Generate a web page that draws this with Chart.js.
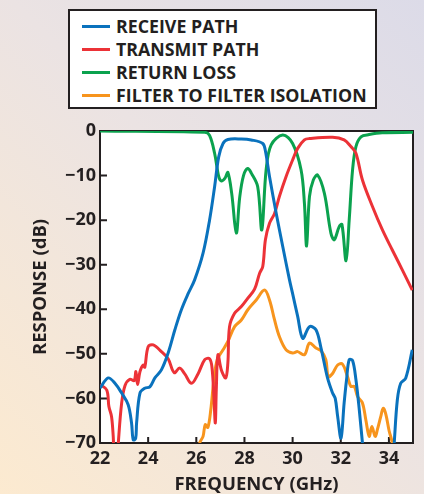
<!DOCTYPE html>
<html>
<head>
<meta charset="utf-8">
<script src="https://cdn.jsdelivr.net/npm/chart.js@4.4.1/dist/chart.umd.min.js"></script>
<style>
  html, body { margin: 0; padding: 0; }
  body { width: 424px; height: 494px; overflow: hidden; }
  #wrap {
    position: relative; width: 424px; height: 494px;
    background: linear-gradient(225deg, #dcdbe8 0%, #ebe3e3 45%, #fcead0 100%);
  }
  #legend {
    position: absolute; left: 68px; top: 9px; width: 305px; height: 96px;
    background: #fff; border: 2px solid #231f20;
    font: 700 17.8px "Open Sans", sans-serif; color: #231f20;
  }
  .row { position: absolute; left: 12px; height: 22px; display: flex; align-items: center; white-space: nowrap; }
  .swatch { width: 28px; height: 3px; margin-right: 6px; }
  canvas { position: absolute; left: 0; top: 0; }
</style>
</head>
<body>
<div id="wrap">
  <canvas id="chart" width="424" height="494"></canvas>
  <div id="legend"></div>
</div>
<script>
// Filter response (GHz / dB). Values under -70 run off the axis.
const receiveFreq = [22.00, 22.34, 22.62, 22.90, 23.17, 23.31, 23.38, 23.48, 23.52, 23.66, 23.86, 24.07, 24.28, 24.55, 24.83, 25.11, 25.38, 25.66, 25.93, 26.28, 26.55, 26.76, 26.93, 27.11, 27.31, 27.87, 28.28, 28.76, 28.87, 29.04, 29.32, 29.59, 29.87, 30.00, 30.21, 30.42, 30.70, 30.97, 31.18, 31.45, 31.66, 31.77, 31.87, 32.01, 32.14, 32.24, 32.35, 32.49, 32.63, 32.77, 32.90, 33.05, 34.12, 34.22, 34.35, 34.49, 34.70, 34.97];
const receiveDb   = [-57.7, -55.4, -56.6, -58.8, -61.4, -65.5, -69.3, -69.0, -65.5, -58.8, -57.7, -57.4, -55.4, -53.6, -49.8, -44.6, -40.1, -36.5, -33.4, -27.4, -20.0, -12.5, -5.8, -2.8, -1.9, -1.8, -2.0, -2.8, -4.5, -10.2, -18.5, -25.9, -33.4, -36.5, -41.6, -46.5, -43.9, -44.6, -48.7, -55.4, -58.8, -60.0, -64.0, -68.9, -61.0, -55.8, -51.3, -51.5, -55.8, -62.6, -70.0, -78, -78, -70.0, -60.3, -56.6, -55.4, -49.1];

const transmitFreq = [22.00, 22.28, 22.37, 22.48, 22.55, 22.60, 22.72, 22.76, 22.90, 23.04, 23.24, 23.42, 23.49, 23.56, 23.66, 23.79, 23.86, 24.00, 24.21, 24.55, 24.83, 25.08, 25.31, 25.52, 25.80, 26.07, 26.35, 26.55, 26.65, 26.73, 26.79, 26.83, 26.90, 27.04, 27.22, 27.31, 27.38, 27.59, 27.87, 28.14, 28.42, 28.63, 28.76, 28.87, 29.04, 29.25, 29.45, 29.73, 30.00, 30.21, 30.49, 30.70, 31.66, 32.14, 32.42, 32.63, 32.90, 33.32, 33.73, 34.14, 34.56, 34.97];
const transmitDb   = [-56.9, -58.1, -61.8, -64.1, -68.6, -74, -74, -70.0, -61.0, -57.1, -55.7, -56.0, -54.0, -56.9, -54.0, -52.5, -53.0, -48.4, -48.0, -49.5, -51.1, -54.2, -53.2, -54.5, -56.6, -54.5, -51.3, -51.1, -53.0, -59.6, -65.5, -58.0, -50.2, -53.6, -55.4, -52.1, -43.9, -40.9, -39.4, -37.5, -35.5, -31.9, -30.4, -24.4, -20.7, -18.5, -14.7, -10.2, -6.5, -3.9, -2.0, -1.7, -1.4, -2.0, -3.5, -5.0, -11.0, -17.0, -22.2, -26.7, -31.2, -35.7];

const returnFreq = [22.00, 26.35, 26.55, 26.76, 26.93, 27.04, 27.20, 27.31, 27.47, 27.66, 27.80, 27.96, 28.14, 28.29, 28.55, 28.72, 28.90, 29.11, 29.59, 30.00, 30.35, 30.49, 30.58, 30.70, 30.86, 31.04, 31.32, 31.59, 31.73, 31.94, 32.05, 32.22, 32.35, 32.49, 32.63, 32.84, 33.18, 33.72, 35.00];
const returnDb   = [0.0, -0.3, -1.0, -5.0, -10.2, -11.2, -10.5, -9.3, -14.0, -22.9, -15.0, -10.0, -8.4, -9.5, -12.5, -22.2, -8.7, -3.1, -0.9, -2.8, -8.7, -16.2, -25.8, -14.7, -11.0, -9.9, -14.0, -22.9, -24.4, -21.4, -21.0, -29.1, -20.0, -8.7, -3.5, -1.3, -0.8, -0.4, -0.3];

const isolationFreq = [26.05, 26.14, 26.28, 26.37, 26.48, 26.60, 26.73, 26.87, 27.11, 27.31, 27.59, 27.87, 28.14, 28.49, 28.83, 29.04, 29.25, 29.45, 29.73, 30.00, 30.21, 30.49, 30.70, 30.97, 31.18, 31.38, 31.48, 31.66, 31.87, 32.07, 32.28, 32.42, 32.56, 32.70, 32.90, 33.04, 33.18, 33.29, 33.43, 33.52, 33.66, 33.76, 33.87, 34.01, 34.14, 34.20];
const isolationDb   = [-74, -70.0, -68.5, -65.9, -66.5, -62.6, -55.8, -51.3, -49.1, -47.2, -43.9, -42.4, -40.1, -37.9, -35.7, -37.9, -42.4, -46.1, -49.1, -49.8, -49.5, -50.2, -47.6, -48.7, -49.3, -51.3, -55.1, -54.4, -52.5, -52.3, -55.1, -57.3, -57.3, -59.6, -61.0, -64.8, -68.5, -66.3, -68.5, -67.0, -64.1, -62.2, -63.5, -67.3, -70.0, -74];

const seriesNames = ['RECEIVE PATH', 'TRANSMIT PATH', 'RETURN LOSS', 'FILTER TO FILTER ISOLATION'];
const seriesColors = ['#0a72bd', '#ec3237', '#0ba24e', '#f7941d'];

const xTicks = [22, 24, 26, 28, 30, 32, 34];
const yTicks = [0, -10, -20, -30, -40, -50, -60, -70];

const INK = '#231f20';

function pts(xs, ys) {
  return xs.map((x, i) => ({ x: x, y: ys[i] }));
}

const frame = {
  id: 'frame',
  beforeDraw(chart) {
    const { ctx, chartArea: a } = chart;
    ctx.save();
    ctx.fillStyle = '#fff';
    ctx.fillRect(a.left, a.top, a.right - a.left, a.bottom - a.top);
    ctx.restore();
  },
  beforeDatasetsDraw(chart) {
    const { ctx, chartArea: a, scales } = chart;
    ctx.save();
    ctx.strokeStyle = INK;
    ctx.lineWidth = 2;
    ctx.strokeRect(a.left, a.top, a.right - a.left, a.bottom - a.top);
    ctx.beginPath();
    // ticks point into the plot
    xTicks.forEach(v => {
      const x = scales.x.getPixelForValue(v);
      ctx.moveTo(x, a.bottom);
      ctx.lineTo(x, a.bottom - 6);
    });
    yTicks.forEach(v => {
      const y = scales.y.getPixelForValue(v);
      ctx.moveTo(a.left, y);
      ctx.lineTo(a.left + 7, y);
    });
    ctx.stroke();
    ctx.restore();
  }
};

const series = [
  pts(receiveFreq, receiveDb),
  pts(transmitFreq, transmitDb),
  pts(returnFreq, returnDb),
  pts(isolationFreq, isolationDb)
];

const tickFont = { family: 'Open Sans', weight: 'bold', size: 18 };
const titleFont = { family: 'Open Sans', weight: 'bold', size: 18.5, lineHeight: 1 };

const chart = new Chart(document.getElementById('chart'), {
  type: 'line',
  data: {
    datasets: series.map((d, i) => ({
      label: seriesNames[i],
      data: d,
      borderColor: seriesColors[i],
      backgroundColor: seriesColors[i],
      borderWidth: 3,
      pointRadius: 0,
      tension: 0.35,
      fill: false
    }))
  },
  options: {
    responsive: false,
    animation: false,
    layout: { padding: { left: 0, right: 11, top: 131, bottom: 0 } },
    plugins: { legend: { display: false }, tooltip: { enabled: false } },
    scales: {
      x: {
        type: 'linear',
        min: 22, max: 35,
        grid: { display: false, drawTicks: false },
        border: { display: false },
        afterFit(s) { s.height = 51; },
        ticks: {
          stepSize: 2,
          includeBounds: false,
          padding: 5,
          color: INK,
          font: tickFont
        },
        title: {
          display: true,
          text: 'FREQUENCY (GHz)',
          color: INK,
          padding: { top: 0, bottom: 0 },
          font: titleFont
        }
      },
      y: {
        min: -70, max: 0,
        grid: { display: false, drawTicks: false },
        border: { display: false },
        afterFit(s) { s.width = 100; },
        ticks: {
          stepSize: 10,
          padding: 4,
          color: INK,
          font: tickFont,
          callback: v => (v < 0 ? '\u2212' + Math.abs(v) : String(v))
        },
        title: {
          display: true,
          text: 'RESPONSE (dB)',
          color: INK,
          padding: { top: 31, bottom: 0 },
          font: titleFont
        }
      }
    }
  },
  plugins: [frame]
});

// legend box built from the dataset labels/colours
const legendEl = document.getElementById('legend');
const rowTops = [4, 27, 50, 73];
chart.data.datasets.forEach((ds, i) => {
  const row = document.createElement('div');
  row.className = 'row';
  row.style.top = rowTops[i] + 'px';
  const sw = document.createElement('span');
  sw.className = 'swatch';
  sw.style.background = ds.borderColor;
  const tx = document.createElement('span');
  tx.textContent = ds.label;
  row.appendChild(sw);
  row.appendChild(tx);
  legendEl.appendChild(row);
});
</script>
</body>
</html>
